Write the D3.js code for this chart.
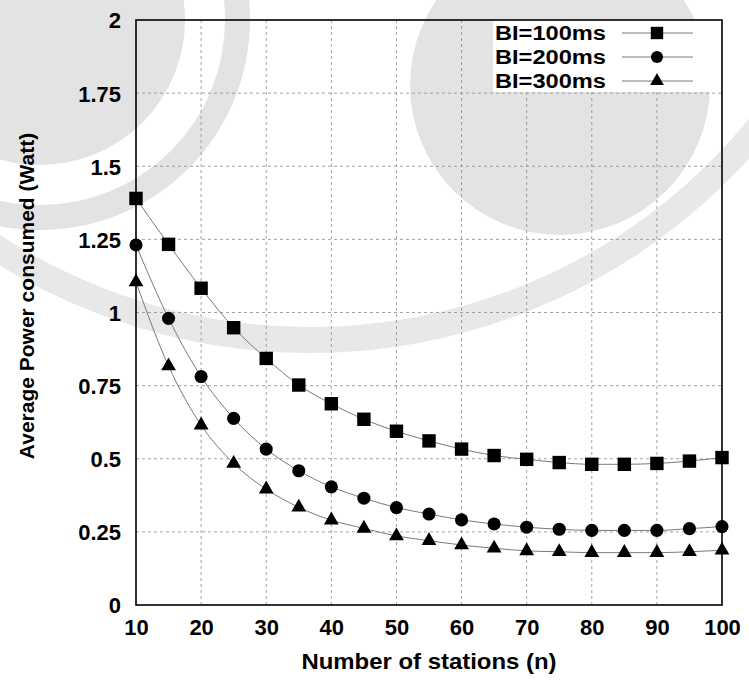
<!DOCTYPE html>
<html>
<head>
<meta charset="utf-8">
<script src="https://cdn.jsdelivr.net/npm/d3@7"></script>
<style>
  body { margin: 0; background: #fff; }
  text { font-family: "Liberation Sans", Arial, sans-serif; font-weight: bold; fill: #000; }
</style>
</head>
<body>
<svg id="chart" width="749" height="681"></svg>
<script>
// values
var stations = [10, 15, 20, 25, 30, 35, 40, 45, 50, 55, 60, 65, 70, 75, 80, 85, 90, 95, 100];
var bi100 = [1.39, 1.233, 1.083, 0.948, 0.843, 0.752, 0.688, 0.635, 0.594, 0.561, 0.533, 0.511, 0.498, 0.487, 0.481, 0.481, 0.484, 0.492, 0.504];
var bi200 = [1.231, 0.98, 0.781, 0.638, 0.533, 0.459, 0.404, 0.365, 0.333, 0.311, 0.291, 0.277, 0.266, 0.259, 0.255, 0.255, 0.255, 0.261, 0.268];
var bi300 = [1.104, 0.817, 0.615, 0.484, 0.396, 0.334, 0.29, 0.262, 0.236, 0.22, 0.205, 0.194, 0.185, 0.182, 0.179, 0.179, 0.179, 0.182, 0.187];
var seriesNames = ["BI=100ms", "BI=200ms", "BI=300ms"];
var xTicks = [10, 20, 30, 40, 50, 60, 70, 80, 90, 100];
var yTicks = [0, 0.25, 0.5, 0.75, 1, 1.25, 1.5, 1.75, 2];

var svg = d3.select("#chart"),
    margin = {top: 20, right: 27, bottom: 76, left: 136},
    width = +svg.attr("width") - margin.left - margin.right,
    height = +svg.attr("height") - margin.top - margin.bottom;

// faint watermark behind the chart
var wm = svg.append("g").attr("class", "watermark");
wm.append("circle").attr("cx", 560).attr("cy", 85).attr("r", 150).attr("fill", "#e3e3e3");
wm.append("circle").attr("cx", 40).attr("cy", 20).attr("r", 210).attr("fill", "#e3e3e3");
wm.append("circle").attr("cx", 40).attr("cy", 20).attr("r", 165)
    .attr("fill", "none").attr("stroke", "#fff").attr("stroke-width", 40);
wm.append("circle").attr("cx", 310).attr("cy", -240).attr("r", 580)
    .attr("fill", "none").attr("stroke", "#e8e8e8").attr("stroke-width", 26);

var x = d3.scaleLinear().domain([10, 100]).range([0, width]);
var y = d3.scaleLinear().domain([0, 2]).range([height, 0]);

var g = svg.append("g").attr("transform", "translate(" + margin.left + "," + margin.top + ")");

// grid
g.append("g")
    .selectAll("line")
    .data(xTicks.slice(1, -1))
    .enter().append("line")
    .attr("x1", function(d) { return x(d); })
    .attr("x2", function(d) { return x(d); })
    .attr("y1", 0)
    .attr("y2", height)
    .attr("stroke", "#8c8c8c")
    .attr("stroke-width", 0.8)
    .attr("stroke-dasharray", "3,3");

g.append("g")
    .selectAll("line")
    .data(yTicks.slice(1, -1))
    .enter().append("line")
    .attr("x1", 0)
    .attr("x2", width)
    .attr("y1", function(d) { return y(d); })
    .attr("y2", function(d) { return y(d); })
    .attr("stroke", "#8c8c8c")
    .attr("stroke-width", 0.8)
    .attr("stroke-dasharray", "3,3");

// legend background hides the grid behind it
g.append("rect")
    .attr("x", 357).attr("y", 0)
    .attr("width", 224).attr("height", 72)
    .attr("fill", "#fff");

// axes
var xAxis = d3.axisBottom(x).tickValues(xTicks).tickSize(0).tickPadding(14);
var yAxis = d3.axisLeft(y).tickValues(yTicks).tickSize(0).tickPadding(15)
    .tickFormat(function(d) { return d3.format("")(d); });

var gx = g.append("g").attr("transform", "translate(0," + height + ")").call(xAxis);
var gy = g.append("g").call(yAxis);
gx.select(".domain").remove();
gy.select(".domain").remove();
gx.selectAll("text").style("font-size", "22px").attr("dy", "0.71em");
gy.selectAll("text").style("font-size", "22px").attr("dy", "0.36em");

g.append("rect")
    .attr("width", width).attr("height", height)
    .attr("fill", "none").attr("stroke", "#000").attr("stroke-width", 1.6);

// series
var line = d3.line()
    .x(function(d) { return x(d[0]); })
    .y(function(d) { return y(d[1]); })
    .curve(d3.curveMonotoneX);

var series = [bi100, bi200, bi300].map(function(vals) {
    return stations.map(function(s, i) { return [s, vals[i]]; });
});
var symbols = [d3.symbolSquare, d3.symbolCircle, d3.symbolTriangle];
var symbolSizes = [180, 135, 95];

series.forEach(function(pts, k) {
    g.append("path")
        .datum(pts)
        .attr("d", line)
        .attr("fill", "none")
        .attr("stroke", "#7a7a7a")
        .attr("stroke-width", 1);

    g.append("g")
        .selectAll("path")
        .data(pts)
        .enter().append("path")
        .attr("transform", function(d) { return "translate(" + x(d[0]) + "," + y(d[1]) + ")"; })
        .attr("d", d3.symbol().type(symbols[k]).size(symbolSizes[k]))
        .attr("fill", "#000");
});

// legend
var legend = g.append("g")
    .selectAll("g")
    .data(seriesNames)
    .enter().append("g")
    .attr("transform", function(d, i) { return "translate(0," + (13 + i * 24) + ")"; });

legend.append("text")
    .attr("x", 470)
    .attr("dy", "0.36em")
    .attr("text-anchor", "end")
    .attr("textLength", 111)
    .attr("lengthAdjust", "spacingAndGlyphs")
    .style("font-size", "20px")
    .text(function(d) { return d; });

legend.append("line")
    .attr("x1", 486).attr("x2", 557)
    .attr("stroke", "#7a7a7a").attr("stroke-width", 1);

legend.append("path")
    .attr("transform", "translate(521,0)")
    .attr("d", function(d, i) { return d3.symbol().type(symbols[i]).size(symbolSizes[i] * 0.85)(); })
    .attr("fill", "#000");

// axis titles
svg.append("text")
    .attr("x", margin.left + width / 2)
    .attr("y", 669)
    .attr("text-anchor", "middle")
    .attr("textLength", 255)
    .attr("lengthAdjust", "spacingAndGlyphs")
    .style("font-size", "22px")
    .text("Number of stations (n)");

svg.append("text")
    .attr("transform", "translate(34," + 296 + ") rotate(-90)")
    .attr("text-anchor", "middle")
    .style("font-size", "21px")
    .text("Average Power consumed (Watt)");
</script>
</body>
</html>
